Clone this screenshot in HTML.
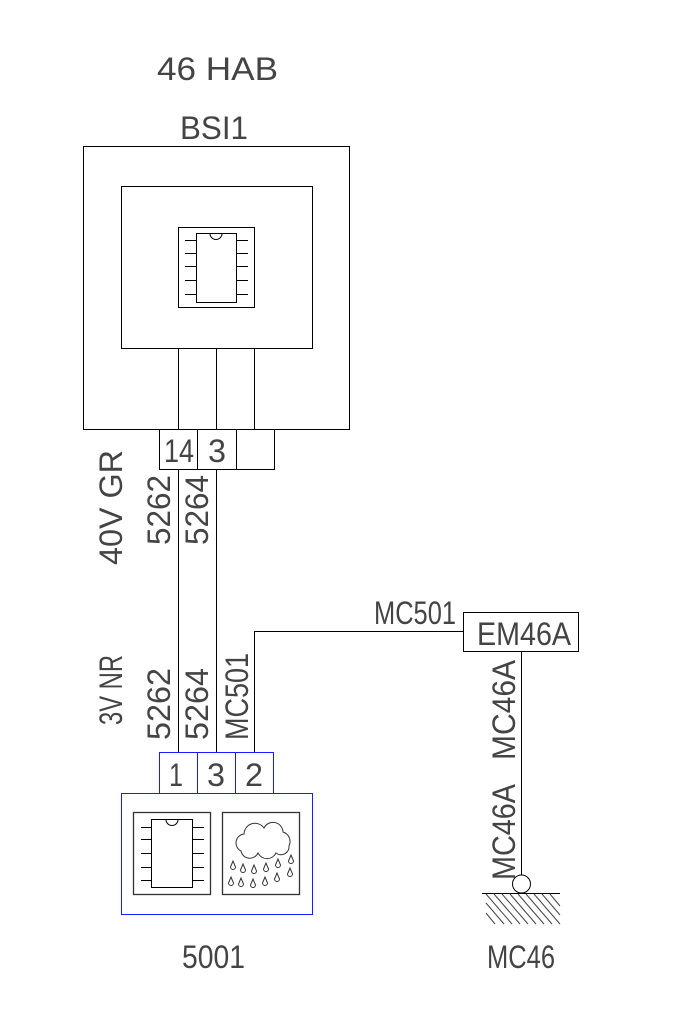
<!DOCTYPE html>
<html><head><meta charset="utf-8"><style>html,body{margin:0;padding:0;background:#fff}svg{display:block}</style></head>
<body>
<svg width="700" height="1020" viewBox="0 0 700 1020" xmlns="http://www.w3.org/2000/svg" font-family="Liberation Sans, sans-serif" fill="none" stroke="#000" stroke-width="1">
<g fill="#444" stroke="none" font-size="32">
<text x="157" y="80" textLength="121" lengthAdjust="spacingAndGlyphs">46 HAB</text>
<text x="180" y="139" textLength="68" lengthAdjust="spacingAndGlyphs">BSI1</text>
<text x="182" y="968" textLength="63" lengthAdjust="spacingAndGlyphs">5001</text>
<text x="487" y="968" textLength="68" lengthAdjust="spacingAndGlyphs">MC46</text>
<text x="374" y="624" textLength="82" lengthAdjust="spacingAndGlyphs">MC501</text>
<text x="477" y="645" textLength="94" lengthAdjust="spacingAndGlyphs">EM46A</text>
<text x="164" y="462" textLength="30" lengthAdjust="spacingAndGlyphs">14</text>
<text x="208" y="462" textLength="18" lengthAdjust="spacingAndGlyphs">3</text>
<text x="169" y="786" textLength="14" lengthAdjust="spacingAndGlyphs">1</text>
<text x="207" y="786" textLength="18" lengthAdjust="spacingAndGlyphs">3</text>
<text x="245" y="786" textLength="18" lengthAdjust="spacingAndGlyphs">2</text>
<text transform="translate(122,565) rotate(-90)" textLength="115" lengthAdjust="spacingAndGlyphs">40V GR</text>
<text transform="translate(170,545) rotate(-90)" textLength="70" lengthAdjust="spacingAndGlyphs">5262</text>
<text transform="translate(208,545) rotate(-90)" textLength="70" lengthAdjust="spacingAndGlyphs">5264</text>
<text transform="translate(122,725) rotate(-90)" textLength="70" lengthAdjust="spacingAndGlyphs">3V NR</text>
<text transform="translate(170,740) rotate(-90)" textLength="72" lengthAdjust="spacingAndGlyphs">5262</text>
<text transform="translate(208,740) rotate(-90)" textLength="72" lengthAdjust="spacingAndGlyphs">5264</text>
<text transform="translate(248,740) rotate(-90)" textLength="87" lengthAdjust="spacingAndGlyphs">MC501</text>
<text transform="translate(515,760) rotate(-90)" textLength="100" lengthAdjust="spacingAndGlyphs">MC46A</text>
<text transform="translate(515,880) rotate(-90)" textLength="96" lengthAdjust="spacingAndGlyphs">MC46A</text>
</g>
<rect x="83.5" y="146.5" width="266" height="283"/>
<rect x="121.5" y="186.5" width="191" height="162"/>
<rect x="178.5" y="227.5" width="76" height="80"/>
<rect x="196.5" y="233.5" width="40" height="69"/>
<path d="M210,233.5 a6,6 0 0 0 12,0"/>
<path d="M185,240.5h11M185,253.5h11M185,266.5h11M185,280.5h11M185,294.5h11M237,240.5h11M237,253.5h11M237,266.5h11M237,280.5h11M237,294.5h11"/>
<path d="M178.5,348v81M216.5,348v81M254.5,348v81"/>
<rect x="159.5" y="429.5" width="115" height="40"/>
<path d="M197.5,429v40M236.5,429v40"/>
<path d="M178.5,469v283M216.5,469v283M254.5,752V631.5H463"/>
<rect x="463.5" y="612.5" width="115" height="39"/>
<path d="M521.5,651v224"/>
<circle cx="521.5" cy="884" r="9"/>
<path d="M482,893.5h78"/>
<path d="M486,894l26,30M494,894l26,30M502,894l26,30M510,894l26,30M518,894l26,30M526,894l26,30M534,894l26,30M542,894l18,21M550,894l10,12M486,903l18,21M486,913l9,11" stroke="#444"/>
<g stroke="#1a1aff">
<rect x="159.5" y="752.5" width="114" height="41"/>
<path d="M197.5,752v41M235.5,752v41"/>
<rect x="121.5" y="793.5" width="191" height="121"/>
</g>
<rect x="133.5" y="812.5" width="77" height="82" stroke="#333" stroke-width="1.3"/>
<rect x="151.5" y="819.5" width="41" height="68"/>
<path d="M166,819.5 a6,6 0 0 0 12,0"/>
<path d="M141,827.5h10M141,839.5h10M141,853.5h10M141,867.5h10M141,880.5h10M193,827.5h11M193,839.5h11M193,853.5h11M193,867.5h11M193,880.5h11"/>
<rect x="222.5" y="812.5" width="77" height="82" stroke="#333" stroke-width="1.3"/>
<path d="M241,851 a9,9 0 0 1 3,-17 a11,11 0 0 1 20,-6 a10,10 0 0 1 19,4 a10,10 0 0 1 6,14 a8,8 0 0 1 -13,7 a10,10 0 0 1 -18,0 a9,9 0 0 1 -17,-2z" stroke="#333"/>
<g stroke="#333">
<path d="M0,0 l-2.5,6 a2.5,2.5 0 0 0 5,0z" transform="translate(233,861)"/>
<path d="M0,0 l-2.5,6 a2.5,2.5 0 0 0 5,0z" transform="translate(243,864)"/>
<path d="M0,0 l-2.5,6 a2.5,2.5 0 0 0 5,0z" transform="translate(254,865)"/>
<path d="M0,0 l-2.5,6 a2.5,2.5 0 0 0 5,0z" transform="translate(266,863)"/>
<path d="M0,0 l-2.5,6 a2.5,2.5 0 0 0 5,0z" transform="translate(278,859)"/>
<path d="M0,0 l-2.5,6 a2.5,2.5 0 0 0 5,0z" transform="translate(291,855)"/>
<path d="M0,0 l-2.5,6 a2.5,2.5 0 0 0 5,0z" transform="translate(231,877)"/>
<path d="M0,0 l-2.5,6 a2.5,2.5 0 0 0 5,0z" transform="translate(241,878)"/>
<path d="M0,0 l-2.5,6 a2.5,2.5 0 0 0 5,0z" transform="translate(253,879)"/>
<path d="M0,0 l-2.5,6 a2.5,2.5 0 0 0 5,0z" transform="translate(265,877)"/>
<path d="M0,0 l-2.5,6 a2.5,2.5 0 0 0 5,0z" transform="translate(277,873)"/>
<path d="M0,0 l-2.5,6 a2.5,2.5 0 0 0 5,0z" transform="translate(290,868)"/>
</g>
</svg>
</body></html>
